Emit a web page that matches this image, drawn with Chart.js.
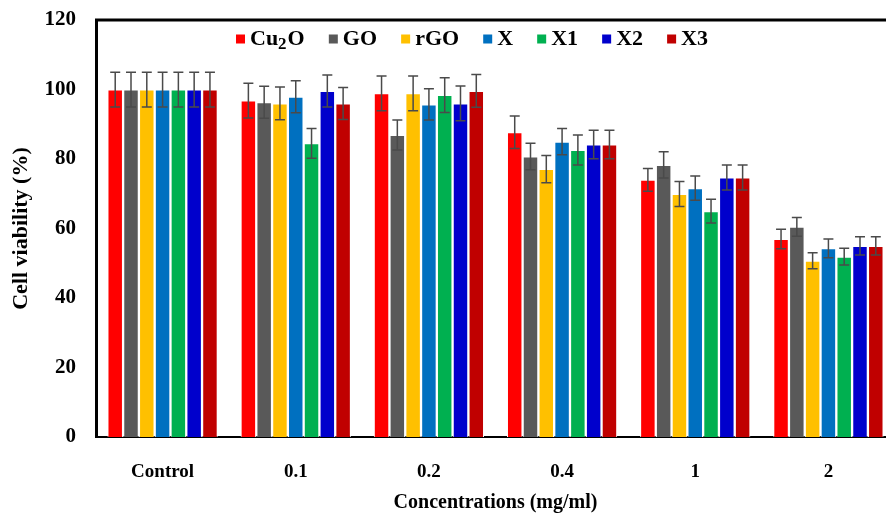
<!DOCTYPE html>
<html>
<head>
    <meta charset="utf-8" />
    <title>Cell viability</title>
    <script src="https://cdn.jsdelivr.net/npm/chart.js"></script>
    <style>
        html, body { margin: 0; padding: 0; background: #fff; overflow: hidden; }
        /* plot runs a few px past the right edge, as in the figure */
        #wrap { position: relative; width: 895px; height: 515px; }
    </style>
</head>
<body>
    <div id="wrap"><canvas id="chart"></canvas></div>
    <script>
        // categories and series
        var concentrations = ['Control', '0.1', '0.2', '0.4', '1', '2'];
        var seriesNames = ['Cu2O', 'GO', 'rGO', 'X', 'X1', 'X2', 'X3'];
        var seriesColors = ['#ff0000', '#595959', '#ffc000', '#0070c0', '#00b050', '#0000cc', '#c00000'];

        var cu2o = [100, 96.8, 98.9, 87.7, 74.0, 57.0];
        var go   = [100, 96.3, 86.9, 80.7, 78.3, 60.5];
        var rgo  = [100, 96.0, 98.9, 77.1, 69.9, 50.7];
        var x    = [100, 97.9, 95.7, 85.0, 71.6, 54.3];
        var x1   = [100, 84.5, 98.4, 82.6, 65.0, 51.9];
        var x2   = [100, 99.6, 96.0, 84.2, 74.7, 55.0];
        var x3   = [100, 96.0, 99.6, 84.2, 74.7, 55.0];

        // standard deviations (error bars)
        var errCu2o = [5, 5.0, 5.0, 4.7, 3.3, 2.8];
        var errGo   = [5, 4.6, 4.3, 3.8, 3.8, 2.7];
        var errRgo  = [5, 4.7, 5.0, 3.9, 3.6, 2.3];
        var errX    = [5, 4.6, 4.5, 3.8, 3.5, 2.7];
        var errX1   = [5, 4.3, 5.0, 4.3, 3.4, 2.4];
        var errX2   = [5, 4.6, 5.0, 4.1, 3.6, 2.6];
        var errX3   = [5, 4.6, 4.7, 4.1, 3.6, 2.6];

        var allValues = [cu2o, go, rgo, x, x1, x2, x3];
        var allErrors = [errCu2o, errGo, errRgo, errX, errX1, errX2, errX3];

        var serif = "'Liberation Serif', 'Times New Roman', serif";

        // draws the +/- error whiskers from the bar scale
        var errorBars = {
            id: 'errorBars',
            afterDatasetsDraw: function(chart) {
                var ctx = chart.ctx;
                var yScale = chart.scales.y;
                ctx.save();
                ctx.strokeStyle = '#4a4a4a';
                ctx.lineWidth = 1.5;
                chart.data.datasets.forEach(function(ds, i) {
                    var meta = chart.getDatasetMeta(i);
                    meta.data.forEach(function(bar, j) {
                        var v = ds.data[j], e = ds.errors[j];
                        var top = yScale.getPixelForValue(v + e);
                        var bot = yScale.getPixelForValue(v - e);
                        ctx.beginPath();
                        ctx.moveTo(bar.x, top);
                        ctx.lineTo(bar.x, bot);
                        ctx.moveTo(bar.x - 5, top);
                        ctx.lineTo(bar.x + 5, top);
                        ctx.moveTo(bar.x - 5, bot);
                        ctx.lineTo(bar.x + 5, bot);
                        ctx.stroke();
                    });
                });
                ctx.restore();
            }
        };

        // top edge of the frame + legend drawn inside the plot area
        var frameAndLegend = {
            id: 'frameAndLegend',
            afterDraw: function(chart) {
                var a = chart.chartArea, ctx = chart.ctx;
                ctx.save();
                ctx.strokeStyle = '#000';
                ctx.lineWidth = 3;
                ctx.beginPath();
                ctx.moveTo(a.left - 1, a.top);
                ctx.lineTo(a.right, a.top);
                ctx.stroke();

                var big = 'bold 22px ' + serif, small = 'bold 17px ' + serif;
                var box = 9, boxGap = 5;
                var startX = 236, endX = 708, midY = a.top + 19;

                // widths of each entry; "Cu2O" gets a subscript 2
                var widths = chart.data.datasets.map(function(ds) {
                    var t = ds.label;
                    if (t === 'Cu2O') {
                        ctx.font = big;
                        var w = ctx.measureText('Cu').width + ctx.measureText('O').width;
                        ctx.font = small;
                        return w + ctx.measureText('2').width + 1;
                    }
                    ctx.font = big;
                    return ctx.measureText(t).width;
                });
                var used = widths.reduce(function(s, w) { return s + w + box + boxGap; }, 0);
                var gap = (endX - startX - used) / (widths.length - 1);

                ctx.textBaseline = 'middle';
                ctx.fillStyle = '#000';
                var px = startX;
                chart.data.datasets.forEach(function(ds, i) {
                    ctx.fillStyle = ds.backgroundColor;
                    ctx.fillRect(px, midY - box / 2, box, box);
                    var tx = px + box + boxGap;
                    ctx.fillStyle = '#000';
                    if (ds.label === 'Cu2O') {
                        ctx.font = big;
                        ctx.fillText('Cu', tx, midY);
                        tx += ctx.measureText('Cu').width;
                        ctx.font = small;
                        ctx.fillText('2', tx, midY + 6);
                        tx += ctx.measureText('2').width + 1;
                        ctx.font = big;
                        ctx.fillText('O', tx, midY);
                    } else {
                        ctx.font = big;
                        ctx.fillText(ds.label, tx, midY);
                    }
                    px += box + boxGap + widths[i] + gap;
                });
                ctx.restore();
            }
        };

        var datasets = seriesNames.map(function(name, i) {
            return {
                label: name,
                data: allValues[i],
                errors: allErrors[i],
                backgroundColor: seriesColors[i],
                borderColor: '#ffffff',
                borderWidth: 1,
                borderSkipped: 'bottom',
                categoryPercentage: 0.83,
                barPercentage: 0.98
            };
        });

        new Chart(document.getElementById('chart'), {
            type: 'bar',
            data: { labels: concentrations, datasets: datasets },
            options: {
                responsive: true,
                maintainAspectRatio: false,
                animation: false,
                layout: { padding: { top: 20, left: 8, right: 0, bottom: 0 } },
                plugins: {
                    tooltip: { enabled: false },
                    legend: { display: false }
                },
                scales: {
                    x: {
                        grid: { display: false, drawTicks: false },
                        border: { display: true, color: '#000', width: 2 },
                        ticks: {
                            color: '#000',
                            padding: 24,
                            font: { family: serif, size: 19, weight: 'bold' }
                        },
                        title: {
                            display: true,
                            text: 'Concentrations (mg/ml)',
                            color: '#000',
                            padding: { top: 0, bottom: 0 },
                            font: { family: serif, size: 20, weight: 'bold' }
                        },
                        afterFit: function(s) { s.height = 78; }
                    },
                    y: {
                        min: 0,
                        max: 120,
                        grid: { display: false, drawTicks: false },
                        border: { display: true, color: '#000', width: 3 },
                        ticks: {
                            stepSize: 20,
                            color: '#000',
                            padding: 20,
                            font: { family: serif, size: 21, weight: 'bold' }
                        },
                        title: {
                            display: true,
                            text: 'Cell viability (%)',
                            color: '#000',
                            padding: { top: 0, bottom: 8 },
                            font: { family: serif, size: 22, weight: 'bold' }
                        },
                        afterFit: function(s) {
                            s.width = 88;
                            s.paddingTop = 0;
                            s.paddingBottom = 0;
                        }
                    }
                }
            },
            plugins: [errorBars, frameAndLegend]
        });
    </script>
</body>
</html>
